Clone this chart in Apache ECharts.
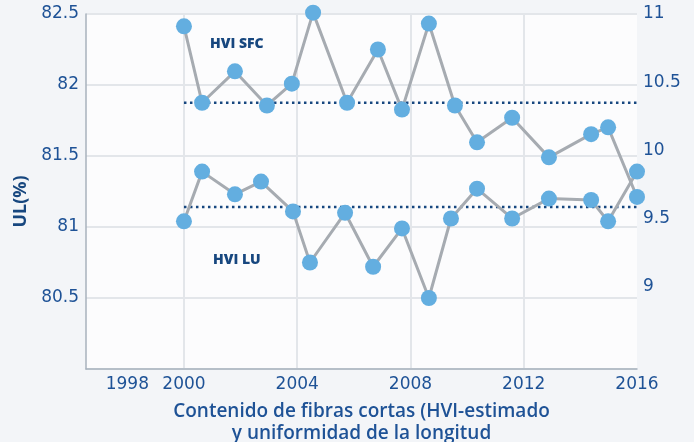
<!DOCTYPE html>
<html>
<head>
<meta charset="utf-8">
<script src="https://cdn.jsdelivr.net/npm/echarts@6/dist/echarts.min.js"></script>
<style>
  html, body { margin: 0; padding: 0; background: #f3f5f8; }
  #chart { width: 694px; height: 442px; }
</style>
</head>
<body>
<div id="chart"></div>
<script>
// years as drawn (dots are not evenly spaced in the original)
var sfcYears = [2000, 2000.64, 2001.8, 2002.93, 2003.81, 2004.56, 2005.76, 2006.85, 2007.7,
  2008.65, 2009.57, 2010.35, 2011.59, 2012.89, 2014.38, 2014.98, 2016];
var sfcValues = [10.91, 10.35, 10.58, 10.33, 10.49, 11.01, 10.35, 10.74, 10.3,
  10.93, 10.33, 10.06, 10.24, 9.95, 10.12, 10.17, 9.66];
var luYears = [2000, 2000.64, 2001.8, 2002.72, 2003.85, 2004.45, 2005.69, 2006.68, 2007.7,
  2008.65, 2009.43, 2010.35, 2011.59, 2012.89, 2014.38, 2014.98, 2016];
var luValues = [81.04, 81.39, 81.23, 81.32, 81.11, 80.75, 81.1, 80.72, 80.99,
  80.5, 81.06, 81.27, 81.06, 81.2, 81.19, 81.04, 81.39];
var meanYears = [2000, 2016];
var sfcMean = 10.35;
var luMean = 81.14;
var xLabels = [1998, 2000, 2004, 2008, 2012, 2016];
var xGrid = [2000, 2004, 2008, 2012];
var rightLabels = [9, 9.5, 10, 10.5, 11];

function zip(xs, ys) {
  return xs.map(function (x, i) { return [x, ys[i]]; });
}

var blue = "#1e5296";
var dark = "#17477f";
var font = "Open Sans";
var numFont = "DejaVu Sans";

var chart = echarts.init(document.getElementById("chart"));
var option = {
  backgroundColor: "#f3f5f8",
  textStyle: { fontFamily: font },
  grid: {
    left: 86, right: 57, top: 14, bottom: 73,
    outerBoundsMode: "none",
    show: true, backgroundColor: "#fcfcfd", borderWidth: 0
  },
  xAxis: {
    type: "value",
    min: 1996.54,
    max: 2016,
    name: "Contenido de fibras cortas (HVI-estimado\ny uniformidad de la longitud",
    nameLocation: "middle",
    nameGap: 32,
    nameTextStyle: { color: blue, fontSize: 19, fontWeight: 600, lineHeight: 22, fontFamily: font },
    axisLine: { lineStyle: { color: "#a8b2bd", width: 1.5 } },
    axisTick: { show: false, customValues: xGrid },
    axisLabel: {
      customValues: xLabels, color: blue, fontSize: 17, margin: 7, fontFamily: numFont,
      formatter: function (v) { return String(v); }
    },
    splitLine: { show: true, lineStyle: { color: "#e3e6ea", width: 2 } }
  },
  yAxis: [
    {
      type: "value",
      min: 80,
      max: 82.5,
      interval: 0.5,
      name: "UL(%)",
      nameLocation: "middle",
      nameRotate: 90,
      nameGap: 54,
      nameTextStyle: { color: dark, fontSize: 18, fontWeight: "bold", fontFamily: font, padding: [0, 20, 0, 0] },
      axisLine: { show: true, lineStyle: { color: "#a8b2bd", width: 1.5 } },
      axisTick: { show: false },
      axisLabel: { showMinLabel: false, color: blue, fontSize: 17, margin: 7, fontFamily: numFont },
      splitLine: { lineStyle: { color: "#e3e6ea", width: 2 } }
    },
    {
      type: "value",
      position: "right",
      min: 8.4,
      max: 11,
      axisLine: { show: false },
      axisTick: { show: false },
      axisLabel: { customValues: rightLabels, color: blue, fontSize: 17, margin: 6, fontFamily: numFont },
      splitLine: { show: false }
    }
  ],
  graphic: [
    { type: "text", left: 210, top: 37, style: { text: "HVI SFC", fill: dark, font: "800 14px " + font } },
    { type: "text", left: 213, top: 253, style: { text: "HVI LU", fill: dark, font: "800 14px " + font } }
  ],
  series: [
    {
      type: "line", yAxisIndex: 1, symbol: "none", silent: true,
      lineStyle: { color: dark, width: 2.5, type: [2.5, 3.5] },
      data: zip(meanYears, [sfcMean, sfcMean])
    },
    {
      type: "line", yAxisIndex: 0, symbol: "none", silent: true,
      lineStyle: { color: dark, width: 2.5, type: [2.5, 3.5] },
      data: zip(meanYears, [luMean, luMean])
    },
    {
      name: "HVI SFC", type: "line", yAxisIndex: 1, clip: false,
      symbol: "circle", symbolSize: 16,
      lineStyle: { color: "#a6abb1", width: 3 },
      itemStyle: { color: "#63aee0" },
      data: zip(sfcYears, sfcValues)
    },
    {
      name: "HVI LU", type: "line", yAxisIndex: 0, clip: false,
      symbol: "circle", symbolSize: 16,
      lineStyle: { color: "#a6abb1", width: 3 },
      itemStyle: { color: "#63aee0" },
      data: zip(luYears, luValues)
    }
  ]
};
chart.setOption(option);
</script>
</body>
</html>
